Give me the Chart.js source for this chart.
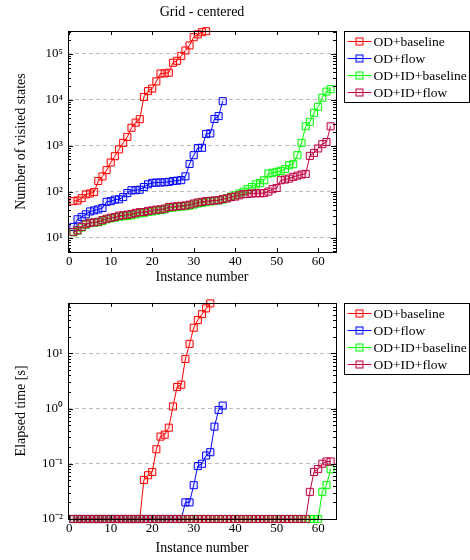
<!DOCTYPE html>
<html>
<head>
<meta charset="utf-8">
<script src="https://cdn.jsdelivr.net/npm/chart.js@4.4.1/dist/chart.umd.min.js"></script>
<style>
body { margin: 0; background: #fff; }
canvas { display: block; }
</style>
</head>
<body>
<canvas id="states" width="470" height="290"></canvas>
<canvas id="time" width="470" height="270"></canvas>
<script>
// series names and colours, same order in both plots
const seriesNames = ['OD+baseline', 'OD+flow', 'OD+ID+baseline', 'OD+ID+flow'];
const seriesColors = ['#ff0000', '#0000ff', '#00ff00', '#bf0040'];

const instances = [1, 2, 3, 4, 5, 6, 7, 8, 9, 10, 11, 12, 13, 14, 15, 16, 17, 18, 19, 20,
	21, 22, 23, 24, 25, 26, 27, 28, 29, 30, 31, 32, 33, 34, 35, 36, 37, 38, 39, 40,
	41, 42, 43, 44, 45, 46, 47, 48, 49, 50, 51, 52, 53, 54, 55, 56, 57, 58, 59, 60,
	61, 62, 63];

// number of visited states
const statesBaseline = [62, 64, 72, 87, 91, 98, 170, 214, 293, 430, 590, 830, 1150, 1550,
	2450, 3170, 3770, 11500, 15400, 17500, 25100, 37200, 37500, 38700, 63700, 70300,
	90000, 118000, 152000, 230000, 265000, 295000, 310000];
const statesFlow = [17, 25, 28, 32, 37, 39, 41, 44, 60, 62, 67, 68, 76, 93, 107, 107, 110,
	126, 144, 155, 157, 158, 160, 163, 170, 173, 178, 215, 400, 620, 890, 900, 1800, 1850,
	3800, 4400, 9300];
const statesIdBaseline = [13, 14, 16.5, 19, 20.5, 21, 21.5, 23, 25, 26, 27, 28.5, 29, 29.5,
	30.5, 32, 33.5, 34.5, 36, 37, 38.5, 39.5, 41, 44, 45, 46, 47, 48, 49.5, 52, 55, 57, 59,
	61, 63, 64, 67, 72, 78, 83, 91, 100, 113, 126, 144, 155, 177, 247, 257, 270, 282, 308,
	375, 395, 620, 1150, 2640, 3300, 5200, 7000, 11000, 15000, 17000];
const statesIdFlow = [13.2, 14.4, 17, 19.5, 21, 21.5, 22, 24, 25.7, 27, 28, 30, 30.5, 31.5,
	32.4, 34.5, 35.7, 36, 38, 39, 40.5, 41, 42.5, 46, 47, 48, 49, 50, 52, 55, 58, 60, 62,
	63, 64, 65, 69, 71, 76, 78, 83, 88, 89, 91, 92, 92, 93, 100, 113, 120, 177, 183, 192,
	209, 223, 235, 243, 600, 695, 870, 1080, 1200, 2640];

// elapsed time [s]
const timeBaseline = [0.01, 0.01, 0.01, 0.01, 0.01, 0.01, 0.01, 0.01, 0.01, 0.01, 0.01,
	0.01, 0.01, 0.01, 0.01, 0.01, 0.01, 0.051, 0.062, 0.071, 0.183, 0.31, 0.336, 0.45,
	1.09, 2.45, 2.7, 7.9, 14.8, 29, 40, 51, 65, 80];
const timeFlow = [0.01, 0.01, 0.01, 0.01, 0.01, 0.01, 0.01, 0.01, 0.01, 0.01, 0.01, 0.01,
	0.01, 0.01, 0.01, 0.01, 0.01, 0.01, 0.01, 0.01, 0.01, 0.01, 0.01, 0.01, 0.01, 0.01,
	0.01, 0.02, 0.02, 0.041, 0.091, 0.1, 0.141, 0.162, 0.47, 0.94, 1.13];
const timeIdBaseline = [0.01, 0.01, 0.01, 0.01, 0.01, 0.01, 0.01, 0.01, 0.01, 0.01, 0.01,
	0.01, 0.01, 0.01, 0.01, 0.01, 0.01, 0.01, 0.01, 0.01, 0.01, 0.01, 0.01, 0.01, 0.01,
	0.01, 0.01, 0.01, 0.01, 0.01, 0.01, 0.01, 0.01, 0.01, 0.01, 0.01, 0.01, 0.01, 0.01,
	0.01, 0.01, 0.01, 0.01, 0.01, 0.01, 0.01, 0.01, 0.01, 0.01, 0.01, 0.01, 0.01, 0.01,
	0.01, 0.01, 0.01, 0.01, 0.01, 0.01, 0.01, 0.031, 0.041, 0.08];
const timeIdFlow = [0.01, 0.01, 0.01, 0.01, 0.01, 0.01, 0.01, 0.01, 0.01, 0.01, 0.01,
	0.01, 0.01, 0.01, 0.01, 0.01, 0.01, 0.01, 0.01, 0.01, 0.01, 0.01, 0.01, 0.01, 0.01,
	0.01, 0.01, 0.01, 0.01, 0.01, 0.01, 0.01, 0.01, 0.01, 0.01, 0.01, 0.01, 0.01, 0.01,
	0.01, 0.01, 0.01, 0.01, 0.01, 0.01, 0.01, 0.01, 0.01, 0.01, 0.01, 0.01, 0.01, 0.01,
	0.01, 0.01, 0.01, 0.01, 0.031, 0.071, 0.08, 0.1, 0.11, 0.11];

const xTicks = [0, 10, 20, 30, 40, 50, 60];
const statesTicks = [10, 100, 1000, 10000, 100000];
const timeTicks = [0.01, 0.1, 1, 10];

const FONT = "'Liberation Serif', 'Times New Roman', serif";
const SUP = {'0': '⁰', '1': '¹', '2': '²', '3': '³', '4': '⁴', '5': '⁵', '6': '⁶',
	'7': '⁷', '8': '⁸', '9': '⁹', '-': '⁻'};

function powLabel(v) {
	const e = String(Math.round(Math.log10(v)));
	return '10' + e.split('').map((c) => SUP[c]).join('');
}

function alpha(hex, a) {
	const n = parseInt(hex.slice(1), 16);
	return 'rgba(' + (n >> 16) + ',' + ((n >> 8) & 255) + ',' + (n & 255) + ',' + a + ')';
}

function makeDatasets(series) {
	return series.map((values, i) => ({
		label: seriesNames[i],
		data: values.map((v, j) => ({x: instances[j], y: v})),
		borderColor: seriesColors[i],
		backgroundColor: alpha(seriesColors[i], 0.08),
		borderWidth: 1,
		pointStyle: 'rect',
		pointRadius: 5,
		pointBorderWidth: 1,
		pointBackgroundColor: alpha(seriesColors[i], 0.08),
		tension: 0,
		clip: false,
		order: 4 - i
	}));
}

// frame with inside ticks, pgfplots style
const framePlugin = {
	id: 'frame',
	afterDatasetsDraw(chart) {
		const {ctx, chartArea: a, scales} = chart;
		ctx.save();
		ctx.strokeStyle = '#000';
		ctx.lineWidth = 1;
		ctx.beginPath();
		xTicks.forEach((t) => {
			const x = Math.round(scales.x.getPixelForValue(t)) + 0.5;
			ctx.moveTo(x, a.bottom); ctx.lineTo(x, a.bottom - 4);
			ctx.moveTo(x, a.top); ctx.lineTo(x, a.top + 4);
		});
		const y = scales.y;
		for (let d = Math.floor(Math.log10(y.min)); d <= Math.ceil(Math.log10(y.max)); d++) {
			for (let m = 1; m <= 9; m++) {
				const v = m * Math.pow(10, d);
				if (v < y.min || v > y.max) continue;
				const py = Math.round(y.getPixelForValue(v)) + 0.5;
				const len = m === 1 ? 5 : 3;
				ctx.moveTo(a.left, py); ctx.lineTo(a.left + len, py);
				ctx.moveTo(a.right, py); ctx.lineTo(a.right - len, py);
			}
		}
		ctx.stroke();
		ctx.strokeRect(Math.round(a.left) + 0.5, Math.round(a.top) + 0.5,
			Math.round(a.right - a.left), Math.round(a.bottom - a.top));
		ctx.restore();
	}
};

// boxed legend to the right of the plot
const legendPlugin = {
	id: 'boxLegend',
	afterDraw(chart) {
		const {ctx, chartArea: a} = chart;
		const x0 = Math.round(a.right) + 8.5, y0 = Math.round(a.top) + 0.5;
		const w = 125, rowH = 17.3, h = 71;
		ctx.save();
		ctx.fillStyle = '#fff';
		ctx.fillRect(x0, y0, w, h);
		ctx.strokeStyle = '#000';
		ctx.lineWidth = 1;
		ctx.strokeRect(x0, y0, w, h);
		ctx.font = '13.5px ' + FONT;
		ctx.textBaseline = 'middle';
		chart.data.datasets.forEach((ds, i) => {
			const cy = Math.round(y0 + 9 + i * rowH) + 0.5;
			ctx.strokeStyle = ds.borderColor;
			ctx.beginPath();
			ctx.moveTo(x0 + 3, cy); ctx.lineTo(x0 + 27, cy);
			ctx.stroke();
			ctx.fillStyle = ds.pointBackgroundColor;
			ctx.fillRect(x0 + 11.5, cy - 3.5, 7, 7);
			ctx.strokeRect(x0 + 11.5, cy - 3.5, 7, 7);
			ctx.fillStyle = '#000';
			ctx.fillText(ds.label, x0 + 29, cy + 1);
		});
		ctx.restore();
	}
};

function makeChart(canvas, cfg) {
	return new Chart(canvas, {
		type: 'line',
		data: {datasets: makeDatasets(cfg.series)},
		options: {
			responsive: false,
			animation: false,
			devicePixelRatio: 1,
			layout: {padding: {left: 0, right: 134, top: cfg.padTop, bottom: 0}},
			scales: {
				x: {
					type: 'linear',
					min: -0.3,
					max: 64.3,
					afterBuildTicks: (s) => { s.ticks = xTicks.map((v) => ({value: v})); },
					afterFit: (s) => { s.height = cfg.xHeight; },
					grid: {display: false, drawTicks: false},
					border: {display: false},
					ticks: {color: '#000', padding: 2, maxRotation: 0, font: {family: FONT, size: 13}},
					title: {display: true, text: 'Instance number', color: '#000',
						font: {family: FONT, size: 14}, padding: {top: 0, bottom: cfg.xTitlePad}}
				},
				y: {
					type: 'logarithmic',
					min: cfg.yMin,
					max: cfg.yMax,
					afterBuildTicks: (s) => { s.ticks = cfg.yTicks.map((v) => ({value: v})); },
					afterFit: (s) => { s.width = 68; },
					grid: {color: '#bdbdbd', lineWidth: 1, drawTicks: false},
					border: {display: false, dash: [4, 3]},
					ticks: {color: '#000', padding: 5, callback: (v) => powLabel(v),
						font: {family: FONT, size: 13}},
					title: {display: true, text: cfg.yTitle, color: '#000',
						font: {family: FONT, size: 14}, padding: {top: 12.6, bottom: 0}}
				}
			},
			plugins: {
				legend: {display: false},
				tooltip: {enabled: false},
				title: cfg.title ? {
					display: true,
					text: cfg.title,
					color: '#000',
					fullSize: false,
					font: {family: FONT, size: 14, weight: 'normal'},
					padding: {top: 3.6, bottom: 10.6}
				} : {display: false}
			}
		},
		plugins: [framePlugin, legendPlugin]
	});
}

makeChart(document.getElementById('states'), {
	series: [statesBaseline, statesFlow, statesIdBaseline, statesIdFlow],
	title: 'Grid - centered',
	padTop: 0,
	xHeight: 38,
	xTitlePad: 4.6,
	yMin: 4.85,
	yMax: 313000,
	yTicks: statesTicks,
	yTitle: 'Number of visited states'
});

makeChart(document.getElementById('time'), {
	series: [timeBaseline, timeFlow, timeIdBaseline, timeIdFlow],
	title: null,
	padTop: 7,
	xHeight: 41,
	xTitlePad: 3.6,
	yMin: 0.01,
	yMax: 82,
	yTicks: timeTicks,
	yTitle: 'Elapsed time [s]'
});
</script>
</body>
</html>
